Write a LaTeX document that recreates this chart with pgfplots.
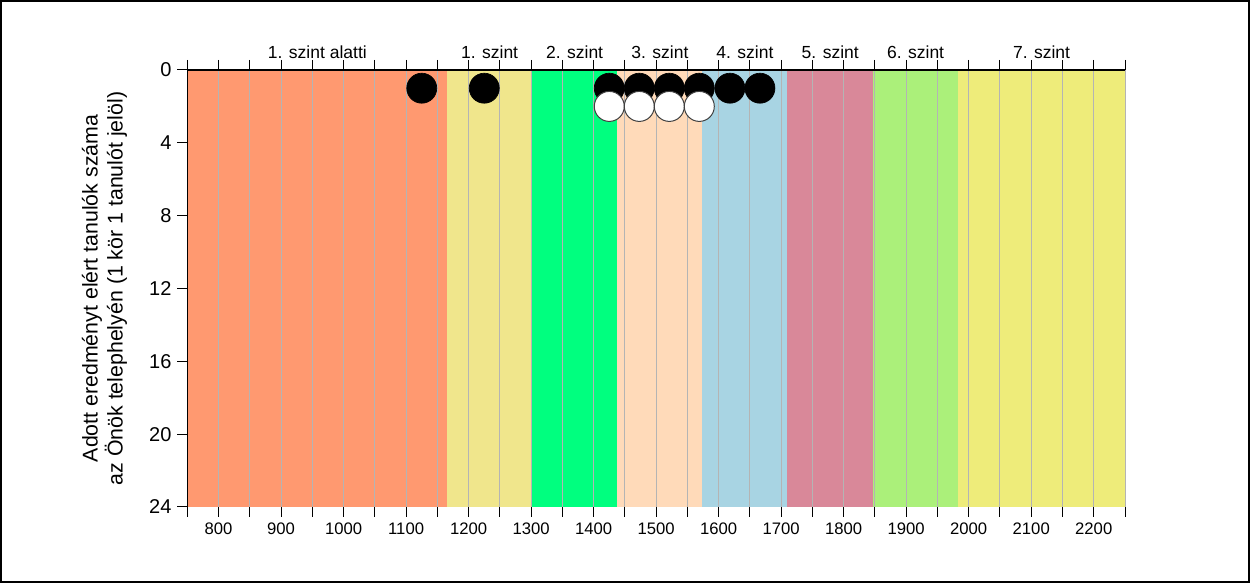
\documentclass[border=0pt]{standalone}
\usepackage{pgfplots}
\pgfplotsset{compat=1.18}
\usepackage{fontspec}
\setmainfont{Liberation Sans}

\definecolor{szA}{HTML}{FF9970}
\definecolor{szB}{HTML}{F0E68C}
\definecolor{szC}{HTML}{00FF7F}
\definecolor{szD}{HTML}{FFDAB9}
\definecolor{szE}{HTML}{A8D4E3}
\definecolor{szF}{HTML}{D98899}
\definecolor{szG}{HTML}{ABF07A}
\definecolor{szH}{HTML}{EEEC7A}
\definecolor{gridgray}{HTML}{B4B4B4}

\begin{document}
\begin{tikzpicture}
\begin{axis}[
    set layers,
    scale only axis,
    width=562.6pt, height=262.2pt,
    xmin=750, xmax=2250,
    ymin=0, ymax=24,
    y dir=reverse,
    clip=false,
    xtick={800,900,...,2200},
    minor xtick={750,850,...,2250},
    ytick={0,4,...,24},
    xtick pos=both, xticklabel pos=bottom,
    ytick pos=left,
    tick align=outside,
    major tick length=6pt, minor tick length=6pt,
    tick style={black, line width=0.6pt},
    axis line style={draw=none},
    xmajorgrids, xminorgrids,
    major grid style={gridgray, line width=0.6pt},
    minor grid style={gridgray, line width=0.6pt},
    /pgf/number format/assume math mode=true,
    /pgf/number format/1000 sep={},
    xticklabel style={font=\fontsize{10}{11}\selectfont},
    yticklabel style={font=\fontsize{12}{13}\selectfont},
    ylabel={Adott eredményt elért tanulók száma\\az Önök telephelyén (1 kör 1 tanulót jelöl)},
    ylabel style={at={(axis description cs:-0.0883,0.5)}, anchor=center,
        align=center, font=\fontsize{12.8}{15}\selectfont},
]
% score bands
\addplot[fill=szA, draw=none, on layer=axis background] coordinates {(750,0) (1166,0) (1166,24) (750,24)} -- cycle;
\addplot[fill=szB, draw=none, on layer=axis background] coordinates {(1166,0) (1301,0) (1301,24) (1166,24)} -- cycle;
\addplot[fill=szC, draw=none, on layer=axis background] coordinates {(1301,0) (1438,0) (1438,24) (1301,24)} -- cycle;
\addplot[fill=szD, draw=none, on layer=axis background] coordinates {(1438,0) (1574,0) (1574,24) (1438,24)} -- cycle;
\addplot[fill=szE, draw=none, on layer=axis background] coordinates {(1574,0) (1710,0) (1710,24) (1574,24)} -- cycle;
\addplot[fill=szF, draw=none, on layer=axis background] coordinates {(1710,0) (1847,0) (1847,24) (1710,24)} -- cycle;
\addplot[fill=szG, draw=none, on layer=axis background] coordinates {(1847,0) (1983,0) (1983,24) (1847,24)} -- cycle;
\addplot[fill=szH, draw=none, on layer=axis background] coordinates {(1983,0) (2250,0) (2250,24) (1983,24)} -- cycle;

% students
\addplot[only marks, mark=*, mark size=9pt, mark options={fill=black, draw=black}] coordinates {
    (1125,1) (1225,1) (1425,1) (1473,1) (1521,1) (1569,1) (1618,1) (1666,1)
};
\addplot[only marks, mark=*, mark size=9pt, mark options={fill=white, draw=black!75, line width=0.6pt}] coordinates {
    (1425,2) (1473,2) (1521,2) (1569,2)
};

% band names
\begin{scope}[every node/.style={anchor=base, font=\fontsize{10.5}{12}\selectfont}]
\node at (axis cs:958,0) [yshift=6.6pt] {1. szint alatti};
\node at (axis cs:1233.5,0) [yshift=6.6pt] {1. szint};
\node at (axis cs:1369.5,0) [yshift=6.6pt] {2. szint};
\node at (axis cs:1506,0) [yshift=6.6pt] {3. szint};
\node at (axis cs:1642,0) [yshift=6.6pt] {4. szint};
\node at (axis cs:1778.5,0) [yshift=6.6pt] {5. szint};
\node at (axis cs:1915,0) [yshift=6.6pt] {6. szint};
\node at (axis cs:2116.5,0) [yshift=6.6pt] {7. szint};
\end{scope}

\draw[black, line width=0.9pt] (rel axis cs:0,0) -- (rel axis cs:0,1);
\draw[black, line width=0.9pt] (rel axis cs:0,1) -- (rel axis cs:1,1);
\coordinate (o) at (rel axis cs:0,0);
\end{axis}
\draw[black, line width=1.2pt] ([shift={(-111.8pt,-45.0pt)}]o) rectangle ([shift={(637.0pt,303.6pt)}]o);
\end{tikzpicture}
\end{document}
